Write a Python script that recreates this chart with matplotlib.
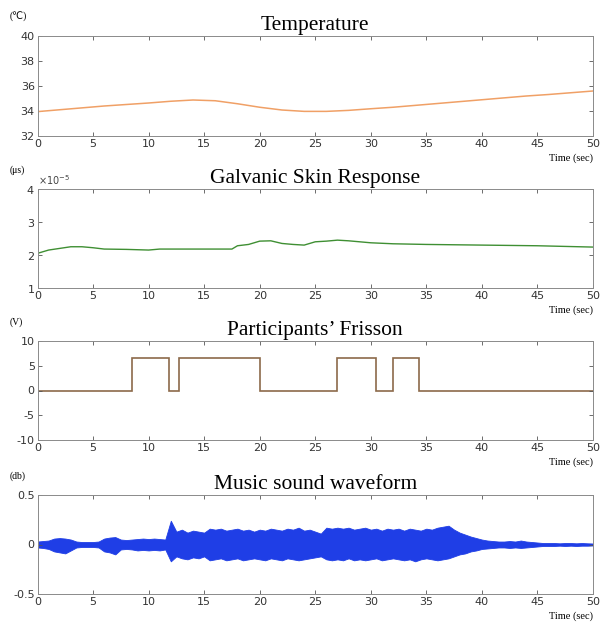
import matplotlib.pyplot as plt
import matplotlib.ticker as mticker
import numpy as np

plt.rcParams['axes.unicode_minus'] = False

# temperature (deg C)
temp_t = [0, 2, 4, 6, 8, 10, 12, 14, 16, 18, 20, 22, 24, 26, 28, 30, 32, 34, 36, 38, 40, 42, 44, 46, 48, 50]
temp_v = [33.95, 34.1, 34.25, 34.4, 34.52, 34.64, 34.78, 34.88, 34.82, 34.58, 34.3, 34.08, 33.97, 33.97,
          34.05, 34.18, 34.3, 34.45, 34.6, 34.75, 34.9, 35.05, 35.2, 35.32, 35.46, 35.6]

# galvanic skin response (x1e-5)
gsr_t = [0, 1, 2, 3, 4, 5, 6, 8, 10, 11, 12, 15, 17.5, 18, 19, 20, 21, 22, 23, 24, 25, 26, 27, 28, 30, 32, 35, 40, 45, 50]
gsr_v = [2.05, 2.15, 2.2, 2.25, 2.25, 2.22, 2.18, 2.17, 2.15, 2.18, 2.18, 2.18, 2.18, 2.28, 2.32, 2.42, 2.43,
         2.35, 2.32, 2.3, 2.4, 2.42, 2.45, 2.43, 2.37, 2.34, 2.32, 2.3, 2.28, 2.24]

# frisson switch (V)
fr_edges = [0, 8.5, 11.8, 12.7, 20, 27, 30.5, 32, 34.3, 50]
fr_level = [0, 6.5, 0, 6.5, 0, 6.5, 0, 6.5, 0]

# waveform envelope, every 0.5 s
wav_t = np.arange(0, 50.01, 0.5)
wav_hi = [0.03, 0.035, 0.04, 0.06, 0.065, 0.06, 0.05, 0.03, 0.025, 0.025, 0.025, 0.03, 0.06, 0.07, 0.075, 0.05,
          0.045, 0.05, 0.055, 0.06, 0.055, 0.06, 0.055, 0.05, 0.24, 0.13, 0.15, 0.12, 0.14, 0.13, 0.12, 0.16,
          0.15, 0.16, 0.14, 0.15, 0.16, 0.14, 0.15, 0.13, 0.15, 0.14, 0.16, 0.15, 0.14, 0.16, 0.15, 0.17,
          0.14, 0.15, 0.13, 0.11, 0.17, 0.16, 0.17, 0.16, 0.17, 0.15, 0.16, 0.17, 0.15, 0.16, 0.14, 0.16,
          0.15, 0.16, 0.14, 0.16, 0.15, 0.14, 0.16, 0.15, 0.17, 0.18, 0.19, 0.15, 0.12, 0.1, 0.08, 0.065,
          0.05, 0.04, 0.035, 0.03, 0.03, 0.035, 0.03, 0.04, 0.03, 0.025, 0.02, 0.015, 0.015, 0.015, 0.012,
          0.015, 0.015, 0.012, 0.015, 0.012, 0.01]
wav_lo = [-0.03, -0.035, -0.045, -0.07, -0.08, -0.09, -0.06, -0.03, -0.025, -0.025, -0.025, -0.03, -0.07, -0.08,
          -0.1, -0.05, -0.045, -0.05, -0.06, -0.055, -0.06, -0.055, -0.06, -0.05, -0.17, -0.12, -0.14, -0.15,
          -0.13, -0.14, -0.12, -0.16, -0.15, -0.14, -0.16, -0.15, -0.14, -0.16, -0.15, -0.14, -0.15, -0.16,
          -0.14, -0.15, -0.16, -0.14, -0.15, -0.16, -0.15, -0.14, -0.13, -0.12, -0.15, -0.16, -0.15, -0.16,
          -0.14, -0.16, -0.15, -0.16, -0.15, -0.14, -0.16, -0.15, -0.14, -0.15, -0.16, -0.15, -0.17, -0.15,
          -0.14, -0.15, -0.16, -0.15, -0.14, -0.12, -0.1, -0.09, -0.07, -0.06, -0.045, -0.04, -0.035, -0.03,
          -0.03, -0.035, -0.03, -0.035, -0.03, -0.025, -0.02, -0.015, -0.015, -0.015, -0.012, -0.015, -0.012,
          -0.015, -0.012, -0.012, -0.01]

W, H = 606, 627
fig = plt.figure(figsize=(W / 100, H / 100), dpi=100)

left, right = 37.5, 593
boxes = [(36, 136), (189, 288), (341, 440), (495, 594)]
titles = ["Temperature", "Galvanic Skin Response", "Participants\u2019 Frisson", "Music sound waveform"]
units = ["(\u2103)", "(\u03bcs)", "(V)", "(db)"]

serif = "Liberation Serif"
tickfont = "Liberation Sans Narrow"

axes = []
for (top, bot), title, unit in zip(boxes, titles, units):
    ax = fig.add_axes([left / W, 1 - bot / H, (right - left) / W, (bot - top) / H])
    ax.set_xlim(0, 50)
    ax.set_xticks(range(0, 51, 5))
    ax.tick_params(direction="in", top=True, right=True, length=3, width=0.6,
                   colors="#555555", labelsize=8, labelcolor="#333333", pad=2)
    for s in ax.spines.values():
        s.set_color("#8a8a8a")
        s.set_linewidth(0.7)
    ax.set_title(title, family=serif, fontsize=15.5, pad=4)
    fig.text(10 / W, 1 - (top - 19) / H, unit, family=[serif, "DejaVu Sans"], fontsize=7, ha="left", va="center")
    fig.text(right / W, 1 - (bot + 22) / H, "Time (sec)", family=serif, fontsize=7.5, ha="right", va="center")
    axes.append(ax)

ax1, ax2, ax3, ax4 = axes

ax1.plot(temp_t, temp_v, color="#f0a066", lw=1.1)
ax1.set_ylim(32, 40)
ax1.set_yticks([32, 34, 36, 38, 40])

ax2.plot(gsr_t, np.array(gsr_v) * 1e-5, color="#3f8f33", lw=1.0)
ax2.set_ylim(1e-5, 4e-5)
ax2.set_yticks([1e-5, 2e-5, 3e-5, 4e-5])
fmt = mticker.ScalarFormatter(useMathText=True)
fmt.set_powerlimits((0, 0))
ax2.yaxis.set_major_formatter(fmt)
ax2.yaxis.get_offset_text().set_fontsize(7)
ax2.yaxis.get_offset_text().set_color("#444444")

ax3.stairs(fr_level, fr_edges, color="#8c6a4a", lw=1.2, baseline=None)
ax3.set_ylim(-10, 10)
ax3.set_yticks([-10, -5, 0, 5, 10])

ax4.fill_between(wav_t, wav_lo, wav_hi, color="#1f3ee6", lw=0.6, edgecolor="#1f3ee6")
ax4.set_ylim(-0.5, 0.5)
ax4.set_yticks([-0.5, 0, 0.5])
ax4.set_yticklabels(["-0.5", "0", "0.5"])

for ax in axes:
    for lab in ax.get_xticklabels() + ax.get_yticklabels():
        lab.set_family([tickfont, "DejaVu Sans"])

fig.savefig("out.png", dpi=100)
